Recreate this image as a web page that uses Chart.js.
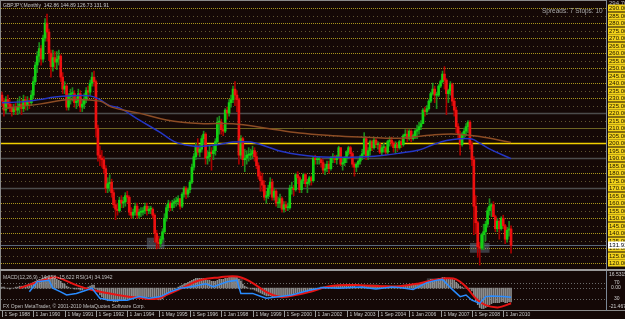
<!DOCTYPE html>
<html>
<head>
<meta charset="utf-8">
<script src="https://cdn.jsdelivr.net/npm/chart.js@4"></script>
<style>
html, body { margin: 0; padding: 0; background: #140806; }
#wrap { position: relative; width: 625px; height: 319px; overflow: hidden; background: #140806; }
#main { position: absolute; left: 0; top: 0; }
#osc { position: absolute; left: 0; top: 271px; }
</style>
</head>
<body>
<div id="wrap">
  <canvas id="main" width="625" height="271"></canvas>
  <canvas id="osc" width="625" height="48"></canvas>
</div>
<script>
// GBPJPY monthly, Sep 1988 .. May 2010
const open = [
  232, 228, 222, 229,
  226, 224, 221, 223, 222, 224, 226, 223, 229, 225, 228, 227,
  232, 241, 252, 258, 263, 256, 270, 280, 274, 260, 251, 257,
  254, 256, 258, 244, 236, 238, 224, 231, 233, 233, 227, 228,
  233, 224, 226, 229, 235, 234, 240, 244, 241, 210, 192, 190,
  189, 183, 170, 173, 174, 167, 159, 156, 155, 162, 160, 161,
  165, 164, 154, 152, 154, 158, 152, 154, 154, 155, 158, 155,
  156, 156, 152, 140, 134, 133, 136, 141, 150, 157, 160, 157,
  160, 161, 161, 163, 158, 166, 170, 166, 169, 174, 184, 191,
  198, 194, 196, 203, 206, 190, 191, 194, 193, 195, 201, 214,
  214, 209, 208, 222, 220, 227, 229, 236, 232, 229, 192, 203,
  189, 190, 192, 192, 193, 195, 191, 185, 178, 175, 172, 164,
  165, 170, 174, 164, 168, 160, 160, 163, 156, 159, 157, 157,
  170, 170, 169, 179, 177, 169, 175, 179, 173, 174, 177, 175,
  190, 189, 189, 189, 187, 182, 183, 186, 183, 190, 191, 189,
  191, 197, 186, 187, 190, 194, 197, 193, 186, 184, 186, 188,
  191, 193, 203, 191, 195, 201, 197, 202, 199, 199, 194, 197,
  197, 194, 201, 202, 200, 197, 199, 197, 201, 199, 205, 206,
  203, 208, 203, 205, 208, 209, 211, 213, 222, 221, 223, 228,
  233, 236, 232, 232, 238, 241, 246, 242, 233, 235, 239, 228,
  222, 211, 206, 199, 206, 208, 211, 214, 199, 189, 158, 147,
  131, 130, 139, 141, 146, 155, 158, 159, 151, 143, 148, 143,
  150, 145, 136, 142, 142.86
];
const high = [
  234, 230, 231, 232,
  229, 226, 226, 227, 229, 231, 229, 232, 231, 231, 230, 235,
  244, 254, 261, 267, 265, 272, 283, 286, 276, 262, 262, 261,
  261, 262, 259, 247, 241, 239, 233, 236, 237, 235, 231, 236,
  235, 229, 233, 237, 238, 242, 247, 248, 242, 212, 198, 195,
  191, 185, 177, 179, 176, 169, 162, 160, 164, 165, 164, 167,
  168, 165, 157, 156, 160, 160, 156, 157, 157, 160, 160, 158,
  158, 157, 153, 142, 138, 138, 143, 153, 159, 162, 161, 162,
  163, 164, 165, 163, 167, 171, 171, 170, 175, 186, 193, 200,
  203, 199, 205, 208, 207, 195, 198, 197, 198, 203, 217, 218,
  216, 212, 223, 224, 229, 232, 238, 241, 235, 230, 205, 204,
  196, 195, 197, 196, 198, 197, 194, 187, 181, 180, 175, 168,
  172, 177, 176, 170, 169, 164, 166, 164, 161, 161, 160, 172,
  174, 172, 180, 181, 178, 176, 180, 180, 176, 178, 178, 191,
  192, 191, 191, 190, 189, 186, 188, 188, 191, 193, 192, 192,
  198, 197, 190, 191, 195, 198, 198, 194, 187, 187, 189, 192,
  196, 207, 204, 197, 202, 202, 204, 203, 201, 200, 199, 200,
  198, 202, 204, 204, 201, 201, 200, 202, 203, 206, 209, 209,
  209, 209, 206, 209, 212, 214, 215, 223, 224, 225, 229, 234,
  240, 238, 234, 239, 242, 248, 251, 243, 236, 241, 240, 230,
  224, 213, 208, 207, 210, 213, 215, 215, 201, 191, 165, 148,
  134, 140, 146, 148, 157, 163, 160, 161, 152, 150, 149, 151,
  152, 146, 144, 148, 144.89
];
const low = [
  225, 218, 220, 223,
  221, 218, 219, 219, 219, 220, 219, 221, 222, 222, 223, 225,
  230, 239, 247, 254, 252, 254, 268, 268, 255, 244, 248, 250,
  249, 252, 241, 233, 233, 222, 222, 226, 228, 224, 223, 225,
  221, 221, 223, 227, 230, 232, 238, 238, 204, 188, 185, 184,
  180, 167, 167, 168, 164, 157, 149, 152, 154, 157, 157, 158,
  160, 152, 150, 150, 152, 150, 150, 151, 152, 153, 152, 153,
  153, 150, 134, 129.5, 130, 131, 134, 140, 148, 155, 155, 155,
  157, 158, 159, 156, 157, 164, 163, 164, 167, 173, 182, 189,
  192, 191, 194, 199, 186, 186, 188, 182, 189, 192, 199, 206,
  206, 205, 207, 216, 218, 224, 227, 225, 221, 186, 190, 185,
  181, 186, 188, 189, 190, 188, 183, 176, 168, 168, 162, 160,
  163, 166, 162, 162, 158, 157, 157, 154, 154, 155, 155, 156,
  166, 165, 168, 173, 167, 167, 173, 171, 167, 172, 172, 174,
  186, 186, 186, 184, 180, 179, 181, 180, 182, 187, 187, 186,
  190, 185, 182, 185, 187, 192, 190, 184, 178, 181, 184, 186,
  189, 192, 189, 189, 192, 195, 196, 197, 196, 193, 192, 194,
  192, 193, 198, 198, 194, 193, 195, 196, 197, 198, 203, 201,
  202, 201, 202, 203, 203, 206, 209, 213, 218, 219, 222, 227,
  232, 227, 223, 231, 237, 240, 236, 219, 227, 232, 225, 218,
  207, 203, 192, 198, 203, 205, 207, 196, 185, 139, 140, 124,
  118.8, 129, 129, 135, 144, 152, 151, 151, 141, 141, 136, 142,
  143, 133, 134, 138, 126.73
];
const close = [
  228, 222, 229, 226,
  224, 221, 223, 222, 224, 226, 223, 229, 225, 228, 227, 232,
  241, 252, 258, 263, 256, 270, 280, 274, 260, 251, 257, 254,
  256, 258, 244, 236, 238, 224, 231, 233, 233, 227, 228, 233,
  224, 226, 229, 235, 234, 240, 244, 241, 210, 192, 190, 189,
  183, 170, 173, 174, 167, 159, 156, 155, 162, 160, 161, 165,
  164, 154, 152, 154, 158, 152, 154, 154, 155, 158, 155, 156,
  156, 152, 140, 134, 133, 136, 141, 150, 157, 160, 157, 160,
  161, 161, 163, 158, 166, 170, 166, 169, 174, 184, 191, 198,
  194, 196, 203, 206, 190, 191, 194, 193, 195, 201, 214, 214,
  209, 208, 222, 220, 227, 229, 236, 232, 229, 192, 203, 189,
  190, 192, 192, 193, 195, 191, 185, 178, 175, 172, 164, 165,
  170, 174, 164, 168, 160, 160, 163, 156, 159, 157, 157, 170,
  170, 169, 179, 177, 169, 175, 179, 173, 174, 177, 175, 190,
  189, 189, 189, 187, 182, 183, 186, 183, 190, 191, 189, 191,
  197, 186, 187, 190, 194, 197, 193, 186, 184, 186, 188, 191,
  193, 203, 191, 195, 201, 197, 202, 199, 199, 194, 197, 197,
  194, 201, 202, 200, 197, 199, 197, 201, 199, 205, 206, 203,
  208, 203, 205, 208, 209, 211, 213, 222, 221, 223, 228, 233,
  236, 232, 232, 238, 241, 246, 242, 233, 235, 239, 228, 222,
  211, 206, 199, 206, 208, 211, 214, 199, 189, 158, 147, 131,
  130, 139, 141, 146, 155, 158, 159, 151, 143, 148, 143, 150,
  145, 136, 142, 142.86, 131.91
];

// moving averages (month index, price)
const slowMaMonths = [0, 19, 35, 50, 56, 70, 84, 101, 118, 135, 152, 169, 186, 203, 220, 232, 244, 260];
const slowMaValues = [223, 226, 229, 228, 224, 220, 215.5, 213.1, 212.9, 210, 206.7, 205, 204, 203.3, 205.5, 206, 204.4, 200.4];
const fastMaMonths = [0, 10, 19, 27, 35, 45, 50, 55, 60, 70, 81, 88, 93, 101, 110, 118, 127, 135, 143, 152,
  161, 169, 178, 186, 194, 203, 213, 220, 227, 234, 240, 244, 250, 260];
const fastMaValues = [227, 227.5, 229, 230.7, 231.5, 231.5, 229, 225, 223.5, 215.5, 207, 201, 199, 197.8, 199, 200.7, 200.7, 197.8, 194.4, 192.2,
  191, 190.6, 190.6, 190.9, 191.7, 193.3, 195.5, 198.9, 201.7, 202.9, 202.7, 200, 195.5, 189.7];

// MACD(12,26,9) main, one per month
const macdMain = [
  1, 1, 0, 0,
  -1, 0, 0, 1, 1, 2, 2, 2, 3, 3, 4, 5,
  6, 7, 8, 9, 9, 10, 11, 12, 12, 11, 10, 10,
  9, 8, 7, 5, 4, 2, 1, 0, 0, -1, -1, -1,
  -2, -2, -1, 0, 1, 2, 3, 3, -1, -4, -7, -9,
  -11, -12, -13, -13, -13, -14, -14, -14, -13, -13, -12, -12,
  -11, -11, -11, -11, -10, -10, -10, -10, -10, -9, -9, -9,
  -9, -9, -10, -11, -12, -12, -11, -9, -7, -5, -3, -2,
  -1, 0, 1, 2, 3, 4, 5, 6, 7, 8, 9, 10,
  10, 10, 10, 10, 9, 8, 8, 7, 7, 7, 8, 9,
  9, 9, 10, 10, 11, 11, 12, 12, 12, 9, 7, 4,
  2, 1, 0, -1, -1, -2, -3, -4, -5, -6, -7, -8,
  -8, -8, -9, -9, -9, -9, -9, -10, -9, -9, -9, -7,
  -7, -6, -5, -5, -5, -4, -4, -4, -4, -4, -3, -2,
  -1, 0, 0, 1, 1, 1, 1, 1, 2, 2, 2, 2,
  3, 3, 2, 2, 3, 3, 3, 2, 2, 1, 1, 1,
  2, 3, 2, 2, 3, 3, 3, 3, 3, 2, 2, 2,
  2, 2, 2, 2, 2, 2, 2, 2, 2, 3, 3, 3,
  3, 3, 3, 3, 4, 4, 5, 6, 6, 7, 8, 9,
  9, 9, 9, 10, 10, 11, 11, 10, 10, 10, 9, 8,
  6, 4, 2, 1, 0, 0, 0, -1, -3, -8, -13, -17,
  -20, -21, -21, -20, -19, -17, -16, -15, -15, -15, -15, -14,
  -14, -15, -15, -14, -14.258
];
const signalMonths = [9, 24, 28, 38, 46, 59, 70, 79, 84, 92, 101, 111, 120, 127, 135, 142, 148, 157, 166, 172,
  183, 194, 203, 213, 220, 227, 232, 237, 242, 247, 253, 256, 260];
const signalValues = [0, 10, 11, 3, -2, -7, -10, -11, -7, 0, 8, 11, 12, 6.5, -4, -9, -8, -4, 1.3, 3,
  3, 2, 2, 4.8, 8, 10, 9, 1.3, -10.6, -17.5, -19.8, -18.5, -15.622];
const rsiMonths = [14, 18, 24, 26, 30, 33, 38, 43, 46, 50, 55, 64, 70, 75, 81, 86, 91, 96, 101, 104,
  108, 115, 120, 122, 128, 132, 135, 142, 148, 157, 164, 172, 183, 191, 199, 203, 210, 217, 222, 225,
  230, 234, 237, 240, 244, 247, 250, 256, 260];
const rsiValues = [48, 73, 77, 57, 48, 40, 44, 52, 57, 32, 27, 27, 36, 32, 36, 48, 57, 60, 65, 68,
  61, 73, 77, 44, 44, 37, 32, 36, 40, 52, 59, 57, 60, 55, 60, 59, 54, 71, 77, 79,
  54, 36, 40, 27, 19, 36, 37.5, 36, 34.19];

// horizontal price levels and axis labels
const levels = [290, 285, 280, 275, 270, 265, 260, 255, 250, 245, 240, 235, 230, 225, 220, 215, 210, 205,
  200, 195, 190, 185, 180, 175, 170, 165, 160, 155, 150, 145, 140, 135, 130, 125, 120];
const bid = 131.91;
const axisTicks = ['Sep 1988', 'Jan 1990', 'May 1991', 'Sep 1992', 'Jan 1994', 'May 1995', 'Sep 1996', 'Jan 1998',
  'May 1999', 'Sep 2000', 'Jan 2002', 'May 2003', 'Sep 2004', 'Jan 2006', 'May 2007', 'Sep 2008', 'Jan 2010'];

// rectangles drawn on the chart: [fromMonth, toMonth, price1, price2]
const priceBoxes = [[74, 83, 137, 129.5], [239, 249, 133.5, 127]];
const oscBoxes = [[66, 70, 0, -10], [117, 123, 10, 0], [217, 226, 10, 0], [241, 250, 0, -10]];

const BG = '#140806';
const FONT = '"Liberation Sans", Arial, sans-serif';
const MONTHS = ['Jan', 'Feb', 'Mar', 'Apr', 'May', 'Jun', 'Jul', 'Aug', 'Sep', 'Oct', 'Nov', 'Dec'];
const SLOTS = 309;
const slots = [];
for (let i = 0; i < SLOTS; i++) {
  const k = 8 + i;
  slots.push(MONTHS[k % 12] + ' ' + (1988 + Math.floor(k / 12)));
}

const sparse = (ms, vs) => {
  const arr = new Array(close.length).fill(null);
  ms.forEach((m, k) => { arr[m] = vs[k]; });
  return arr;
};
const bull = i => close[i] >= open[i];

const levelStyle = p => {
  if (p === 200) return { color: '#f2d000', width: 1.5, dash: [] };
  if (p === 210) return { color: '#6e6422', width: 1, dash: [] };
  if (p === 220 || p === 190 || p === 170) return { color: '#4c4c4c', width: 1.5, dash: [] };
  if (p % 10 === 0) return { color: '#a8941c', width: 1, dash: [1, 1] };
  return { color: '#5e5430', width: 1, dash: [1, 3] };
};

const drawBoxes = (ctx, x, y, boxes, fill) => {
  ctx.fillStyle = fill;
  boxes.forEach(b => {
    const x1 = x.getPixelForValue(b[0]), x2 = x.getPixelForValue(b[1]);
    const y1 = y.getPixelForValue(b[2]), y2 = y.getPixelForValue(b[3]);
    ctx.fillRect(x1, y1, x2 - x1, y2 - y1);
  });
};

const mainDeco = {
  id: 'mainDeco',
  beforeDraw(chart) {
    const ctx = chart.ctx;
    ctx.save();
    ctx.fillStyle = BG;
    ctx.fillRect(0, 0, chart.width, chart.height);
    ctx.restore();
  },
  beforeDatasetsDraw(chart) {
    const { ctx, chartArea: a, scales: { x, y } } = chart;
    ctx.save();
    levels.forEach(p => {
      const st = levelStyle(p);
      const yy = Math.round(y.getPixelForValue(p)) + 0.5;
      ctx.strokeStyle = st.color;
      ctx.lineWidth = st.width;
      ctx.setLineDash(st.dash);
      ctx.beginPath();
      ctx.moveTo(a.left, yy);
      ctx.lineTo(a.right, yy);
      ctx.stroke();
    });
    ctx.setLineDash([]);
    drawBoxes(ctx, x, y, priceBoxes, 'rgba(120,140,160,0.4)');
    const by = Math.round(y.getPixelForValue(bid)) + 0.5;
    ctx.strokeStyle = '#5a6878';
    ctx.lineWidth = 1;
    ctx.beginPath();
    ctx.moveTo(a.left, by);
    ctx.lineTo(a.right, by);
    ctx.stroke();
    ctx.restore();
  },
  afterDraw(chart) {
    const { ctx, chartArea: a, scales: { y } } = chart;
    ctx.save();
    // frame
    ctx.strokeStyle = '#8a8a8a';
    ctx.lineWidth = 1;
    ctx.beginPath();
    ctx.moveTo(0, 0.5); ctx.lineTo(a.right, 0.5);
    ctx.moveTo(0.5, 0); ctx.lineTo(0.5, chart.height);
    ctx.stroke();
    ctx.strokeStyle = '#7c8896';
    ctx.beginPath();
    ctx.moveTo(a.right + 0.5, 0); ctx.lineTo(a.right + 0.5, chart.height);
    ctx.stroke();
    ctx.fillStyle = '#9a9a9a';
    ctx.fillRect(0, 269, chart.width, 2);

    // price labels
    ctx.font = '6px ' + FONT;
    ctx.textBaseline = 'middle';
    ctx.textAlign = 'left';
    levels.forEach(p => {
      const yy = Math.round(y.getPixelForValue(p));
      ctx.fillStyle = '#f2d21a';
      ctx.fillRect(a.right + 2, yy - 3.5, 20, 7);
      ctx.fillStyle = '#1a1200';
      ctx.fillText(p.toFixed(2), a.right + 3, yy + 0.5);
    });
    const by = Math.round(y.getPixelForValue(bid));
    ctx.fillStyle = '#ffffff';
    ctx.fillRect(a.right + 2, by - 3.5, 20, 7);
    ctx.fillStyle = '#000000';
    ctx.fillText(bid.toFixed(2), a.right + 3, by + 0.5);
    ctx.fillStyle = '#b8b8b8';
    ctx.fillText(y.max.toFixed(2), a.right + 3, 3);

    // captions
    ctx.font = '5px ' + FONT;
    ctx.fillStyle = '#c8c8c8';
    ctx.fillText('GBPJPY,Monthly  ' + [open, high, low, close].map(s => s[s.length - 1].toFixed(2)).join(' '), 3, 5.5);
    ctx.font = '6.5px ' + FONT;
    ctx.fillStyle = '#a8a8a8';
    ctx.fillText('Spreads: 7 Stops: 10', 542, 11);
    ctx.restore();
  }
};

new Chart(document.getElementById('main'), {
  type: 'bar',
  data: {
    labels: slots,
    datasets: [
      {
        type: 'line', label: 'slow MA', data: sparse(slowMaMonths, slowMaValues),
        borderColor: '#8c4c24', borderWidth: 1.5, pointRadius: 0, spanGaps: true, tension: 0.4, order: 0
      },
      {
        type: 'line', label: 'fast MA', data: sparse(fastMaMonths, fastMaValues),
        borderColor: '#2436c4', borderWidth: 1.5, pointRadius: 0, spanGaps: true, tension: 0.4, order: 0
      },
      {
        label: 'body', data: open.map((o, i) => [o, close[i]]),
        backgroundColor: c => bull(c.dataIndex) ? '#12d012' : '#ec1010',
        barThickness: 2, minBarLength: 1, grouped: false, borderWidth: 0, order: 1
      },
      {
        label: 'wick', data: low.map((l, i) => [l, high[i]]),
        backgroundColor: c => bull(c.dataIndex) ? '#1c8a1c' : '#a80000',
        barThickness: 1, grouped: false, borderWidth: 0, order: 2
      }
    ]
  },
  options: {
    responsive: false,
    animation: false,
    devicePixelRatio: 1,
    events: [],
    layout: { padding: { left: 1, right: 19, top: 1, bottom: 1 } },
    plugins: { legend: { display: false }, tooltip: { enabled: false } },
    scales: {
      x: { type: 'category', display: false, offset: true },
      y: { display: false, min: 115.5, max: 294.7 }
    }
  },
  plugins: [mainDeco]
});

const oscDeco = {
  id: 'oscDeco',
  beforeDraw(chart) {
    const ctx = chart.ctx;
    ctx.save();
    ctx.fillStyle = BG;
    ctx.fillRect(0, 0, chart.width, chart.height);
    ctx.restore();
  },
  beforeDatasetsDraw(chart) {
    const { ctx, chartArea: a, scales: { x, macd, rsi } } = chart;
    ctx.save();
    ctx.strokeStyle = '#6a6a6a';
    ctx.lineWidth = 1;
    ctx.setLineDash([1, 2]);
    [rsi.getPixelForValue(70), macd.getPixelForValue(0), rsi.getPixelForValue(30)].forEach(v => {
      const yy = Math.round(v) + 0.5;
      ctx.beginPath();
      ctx.moveTo(a.left, yy);
      ctx.lineTo(a.right, yy);
      ctx.stroke();
    });
    ctx.setLineDash([]);
    drawBoxes(ctx, x, macd, oscBoxes, 'rgba(130,140,150,0.35)');
    ctx.restore();
  },
  afterDraw(chart) {
    const { ctx, chartArea: a, scales: { x, macd, rsi } } = chart;
    ctx.save();
    ctx.strokeStyle = '#8a8a8a';
    ctx.lineWidth = 1;
    ctx.beginPath();
    ctx.moveTo(0.5, 0); ctx.lineTo(0.5, 40);
    ctx.moveTo(0, 39.5); ctx.lineTo(chart.width, 39.5);
    ctx.stroke();
    ctx.strokeStyle = '#7c8896';
    ctx.beginPath();
    ctx.moveTo(a.right + 0.5, 0); ctx.lineTo(a.right + 0.5, 40);
    ctx.stroke();

    ctx.font = '5px ' + FONT;
    ctx.textBaseline = 'middle';
    ctx.textAlign = 'left';
    ctx.fillStyle = '#c0c0c0';
    ctx.fillText('MACD(12,26,9) ' + macdMain[macdMain.length - 1].toFixed(3) + ' ' +
      signalValues[signalValues.length - 1].toFixed(3) + ' RSI(14) 34.1942', 3, 6.5);
    ctx.fillText('FX Open MetaTrader, \u00a9 2001-2010 MetaQuotes Software Corp.', 3, 35.5);

    // right scale
    ctx.fillStyle = '#d0d0d0';
    ctx.fillText(macd.max.toFixed(4), a.right + 3, 3.5);
    ctx.fillText('70', a.right + 8, rsi.getPixelForValue(70));
    ctx.fillText('0.00', a.right + 5, macd.getPixelForValue(0));
    ctx.fillText('30', a.right + 8, rsi.getPixelForValue(30));
    ctx.fillText(macd.min.toFixed(3), a.right + 3, 36);

    // time axis
    ctx.strokeStyle = '#9a9a9a';
    ctx.fillStyle = '#c8c8c8';
    axisTicks.forEach(t => {
      const px = Math.round(x.getPixelForValue(slots.indexOf(t))) + 0.5;
      ctx.beginPath();
      ctx.moveTo(px, 40); ctx.lineTo(px, 46);
      ctx.stroke();
      ctx.fillText('1 ' + t, px + 2, 44);
    });
    ctx.restore();
  }
};

new Chart(document.getElementById('osc'), {
  type: 'bar',
  data: {
    labels: slots,
    datasets: [
      {
        type: 'line', label: 'RSI(14)', data: sparse(rsiMonths, rsiValues), yAxisID: 'rsi',
        borderColor: '#2a8cff', borderWidth: 1.5, pointRadius: 0, spanGaps: true, tension: 0, order: 0
      },
      {
        type: 'line', label: 'signal', data: sparse(signalMonths, signalValues), yAxisID: 'macd',
        borderColor: '#e81414', borderWidth: 2, pointRadius: 0, spanGaps: true, tension: 0.4, order: 0
      },
      {
        label: 'MACD', data: macdMain, yAxisID: 'macd',
        backgroundColor: '#8c8c8c', barThickness: 1, borderWidth: 0, order: 1
      }
    ]
  },
  options: {
    responsive: false,
    animation: false,
    devicePixelRatio: 1,
    events: [],
    layout: { padding: { left: 1, right: 19, top: 1, bottom: 10 } },
    plugins: { legend: { display: false }, tooltip: { enabled: false } },
    scales: {
      x: { type: 'category', display: false, offset: true },
      macd: { axis: 'y', display: false, min: -21.467, max: 16.5315 },
      rsi: { axis: 'y', display: false, min: 5, max: 97.5 }
    }
  },
  plugins: [oscDeco]
});
</script>
</body>
</html>
